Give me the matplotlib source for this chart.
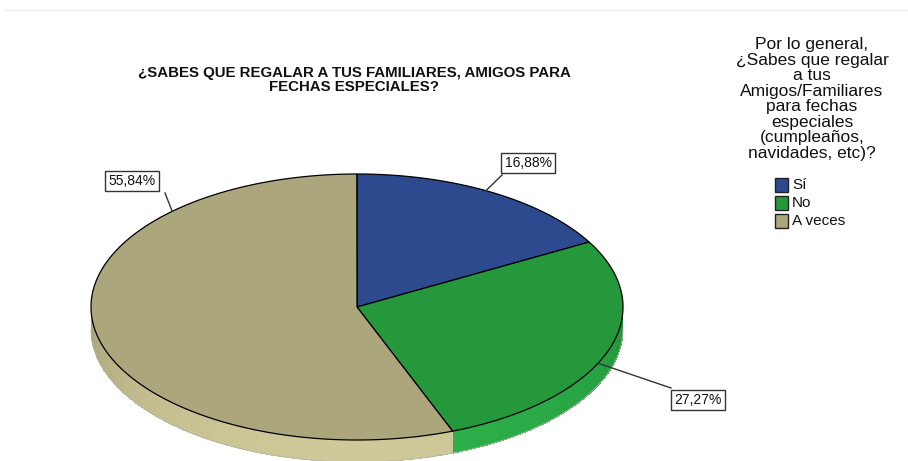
import numpy as np
import matplotlib
matplotlib.use("Agg")
import matplotlib.pyplot as plt
from matplotlib.patches import Polygon, Rectangle
from matplotlib.colors import to_rgb

plt.rcParams['font.family'] = ['Liberation Sans', 'DejaVu Sans']

# datos
categorias = ["Sí", "No", "A veces"]
porcentajes = [16.88, 27.27, 55.84]
etiquetas = ["16,88%", "27,27%", "55,84%"]
colores = ["#2e4a8e", "#24983b", "#aba67b"]
colores_lado = ["#3a5aa8", "#2db04a", "#cfc999"]
colores_sombra = ["#243a70", "#1f8a36", "#9a966e"]

titulo = "¿SABES QUE REGALAR A TUS FAMILIARES, AMIGOS PARA\nFECHAS ESPECIALES?"
titulo_leyenda = ("Por lo general,\n¿Sabes que regalar\na tus\nAmigos/Familiares\n"
                  "para fechas\nespeciales\n(cumpleaños,\nnavidades, etc)?")

# geometria (pixeles)
W, H = 908, 461
cx, cy = 357, 307
rx, ry = 266, 133
prof = 22

# angulo de la linea de cada etiqueta y posicion de la caja
ang_linea = [61, -25, 134]
caja = [(528, 163), (698, 400), (132, 181)]
extremo = [(502, 175), (671, 388), (165, 193)]


def pto(t, dz=0):
    t = np.radians(t)
    return cx + rx * np.cos(t), cy - ry * np.sin(t) + dz


def mezcla(c1, c2, w):
    a, b = np.array(to_rgb(c1)), np.array(to_rgb(c2))
    return tuple(a * (1 - w) + b * w)


fig = plt.figure(figsize=(W / 100, H / 100), dpi=100)
ax = fig.add_axes([0, 0, 1, 1])
ax.set_xlim(0, W)
ax.set_ylim(H, 0)
ax.axis("off")

# limites de las porciones (empieza arriba, sentido horario)
acum = np.cumsum([0] + porcentajes) / 100.0
inicio = 90 - 360 * acum[:-1]
fin = 90 - 360 * acum[1:]

# lados visibles (mitad inferior), sombreado segun el angulo
for i in range(len(categorias)):
    lo, hi = max(fin[i], -180), min(inicio[i], 0)
    if hi <= lo:
        continue
    ts = np.linspace(lo, hi, 60)
    for t0, t1 in zip(ts[:-1], ts[1:]):
        tm = np.radians((t0 + t1) / 2)
        w = min(1.0, max(0.0, -np.sin(tm)) ** 0.6)
        col = mezcla(colores_sombra[i], colores_lado[i], w)
        quad = [pto(t0), pto(t1), pto(t1, prof), pto(t0, prof)]
        ax.add_patch(Polygon(quad, closed=True, facecolor=col, edgecolor="none",
                             antialiased=False, zorder=2))
    abajo = [pto(t, prof) for t in ts]
    ax.plot([p[0] for p in abajo], [p[1] for p in abajo], color="#b5b5a5",
            lw=0.6, zorder=2.5)

# caras superiores
for i in range(len(categorias)):
    ts = np.linspace(inicio[i], fin[i], 200)
    pts = [(cx, cy)] + [pto(t) for t in ts]
    ax.add_patch(Polygon(pts, closed=True, facecolor=colores[i],
                         edgecolor="black", lw=0.9, joinstyle="round", zorder=3))

# etiquetas con linea
for i in range(len(categorias)):
    x0, y0 = pto(ang_linea[i])
    ax.plot([x0, extremo[i][0]], [y0, extremo[i][1]], color="#333333", lw=1.0, zorder=4)
    ax.text(caja[i][0], caja[i][1], etiquetas[i], fontsize=10, ha="center", va="center",
            zorder=5, color="#111111",
            bbox=dict(boxstyle="square,pad=0.22", fc="white", ec="#333333", lw=1.0))

# titulo
ax.text(354, 80, titulo, fontsize=10.8, fontweight="bold", ha="center", va="center",
        linespacing=0.93, color="#111111")

# leyenda
ax.text(812, 99, titulo_leyenda, fontsize=12.5, ha="center", va="center",
        linespacing=1.04, color="#111111")
for i, cat in enumerate(categorias):
    y = 185 + 18 * i
    ax.add_patch(Rectangle((775, y - 7), 13, 14, facecolor=colores[i],
                           edgecolor="#222222", lw=1.0))
    ax.text(792, y, cat, fontsize=11, ha="left", va="center", color="#111111")

# linea gris superior
ax.plot([4, 908], [10, 10], color="#eeeeee", lw=0.8)

fig.savefig("out.png", dpi=100)
